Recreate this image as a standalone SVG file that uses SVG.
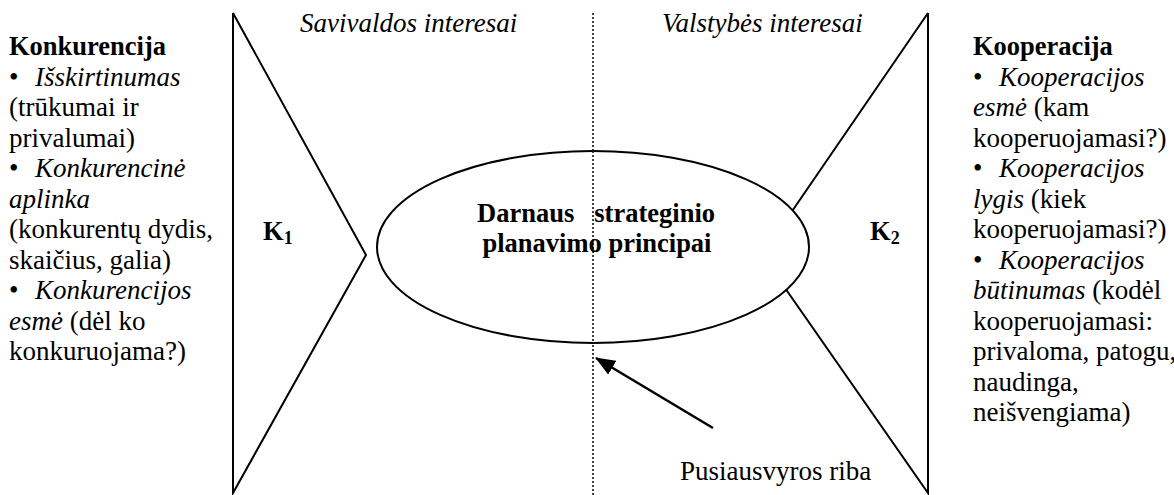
<svg xmlns="http://www.w3.org/2000/svg" width="1174" height="495" viewBox="0 0 1174 495">
<style>
text{font-family:'Liberation Serif','Times New Roman',serif;font-size:27px;fill:#000}
.b{font-weight:bold;font-size:26.5px}
.i{font-style:italic}
.ln{fill:none;stroke:#000;stroke-width:2}
</style>
<defs>
<marker id="ah2" viewBox="0 0 20 16" refX="19" refY="8" markerWidth="20" markerHeight="16" markerUnits="userSpaceOnUse" orient="auto">
<path d="M0,0 L20,8 L0,16 z" fill="#000"/>
</marker>
</defs>
<rect width="1174" height="495" fill="#fff"/>
<g id="connectors">
<line x1="593" y1="13" x2="593" y2="495" stroke="#000" stroke-width="1.5" stroke-dasharray="2,2"/>
<polyline id="k1-shape" class="ln" points="233,13 366,255 233,493 233,13"/>
<polyline id="k2-shape" class="ln" points="928,13 762,255 928,493 928,13"/>
<line x1="713" y1="428" x2="596" y2="358" stroke="#000" stroke-width="2.5" marker-end="url(#ah2)"/>
</g>
<g id="headers">
<text x="300" y="32" class="i">Savivaldos interesai</text>
<text x="662" y="32" class="i">Valstybės interesai</text>
</g>
<g id="ellipse-node">
<ellipse cx="593" cy="247" rx="216" ry="96" fill="#fff" stroke="#000" stroke-width="2"/>
<line x1="593" y1="151" x2="593" y2="343" stroke="#000" stroke-width="1.5" stroke-dasharray="2,2"/>
<text x="477" y="222" class="b">Darnaus</text>
<text x="715" y="222" class="b" text-anchor="end">strateginio</text>
<text x="597" y="252" class="b" text-anchor="middle">planavimo principai</text>
</g>
<g id="k1">
<text x="263" y="240" class="b">K<tspan font-size="18" dy="4">1</tspan></text>
</g>
<g id="k2">
<text x="870" y="240" class="b">K<tspan font-size="18" dy="4">2</tspan></text>
</g>
<g id="konkurencija">
<text x="9" y="55" class="b">Konkurencija</text>
<text x="9" y="85.5">•<tspan x="35" class="i">Išskirtinumas</tspan></text>
<text x="9" y="116">(trūkumai ir</text>
<text x="9" y="146.5">privalumai)</text>
<text x="9" y="177">•<tspan x="35" class="i">Konkurencinė</tspan></text>
<text x="9" y="207.5" class="i">aplinka</text>
<text x="9" y="238">(konkurentų dydis,</text>
<text x="9" y="268.5">skaičius, galia)</text>
<text x="9" y="299">•<tspan x="35" class="i">Konkurencijos</tspan></text>
<text x="9" y="329.5"><tspan class="i">esmė</tspan> (dėl ko</text>
<text x="9" y="360">konkuruojama?)</text>
</g>
<g id="kooperacija">
<text x="973" y="55" class="b">Kooperacija</text>
<text x="973" y="85.5">•<tspan x="999" class="i">Kooperacijos</tspan></text>
<text x="973" y="116"><tspan class="i">esmė</tspan> (kam</text>
<text x="973" y="146.5">kooperuojamasi?)</text>
<text x="973" y="177">•<tspan x="999" class="i">Kooperacijos</tspan></text>
<text x="973" y="207.5"><tspan class="i">lygis</tspan> (kiek</text>
<text x="973" y="238">kooperuojamasi?)</text>
<text x="973" y="268.5">•<tspan x="999" class="i">Kooperacijos</tspan></text>
<text x="973" y="299"><tspan class="i">būtinumas</tspan> (kodėl</text>
<text x="973" y="329.5">kooperuojamasi:</text>
<text x="973" y="360">privaloma, patogu,</text>
<text x="973" y="390.5">naudinga,</text>
<text x="973" y="421">neišvengiama)</text>
</g>
<g id="label">
<text x="680" y="480">Pusiausvyros riba</text>
</g>
</svg>
